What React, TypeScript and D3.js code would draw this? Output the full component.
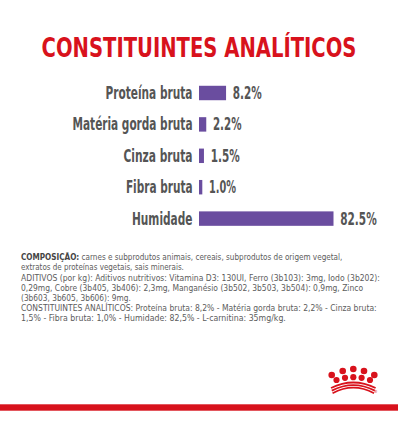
import React, { useLayoutEffect, useRef, useState } from "react";
import * as d3 from "d3";

const title = "CONSTITUINTES ANALÍTICOS";
const categories = ["Proteína bruta", "Matéria gorda bruta", "Cinza bruta", "Fibra bruta", "Humidade"];
const values = [8.2, 2.2, 1.5, 1.0, 82.5];
const valueLabels = ["8.2%", "2.2%", "1.5%", "1.0%", "82.5%"];
const labelWidths = [87, 120, 69, 66.5, 60.5];
const valueWidths = [29, 28.5, 29, 27, 36.5];

const paraBold = "COMPOSIÇÃO:";
const paraLines = [
  " carnes e subprodutos animais, cereais, subprodutos de origem vegetal,",
  "extratos de proteínas vegetais, sais minerais.",
  "ADITIVOS (por kg): Aditivos nutritivos: Vitamina D3: 130UI, Ferro (3b103): 3mg, Iodo (3b202):",
  "0,29mg, Cobre (3b405, 3b406): 2,3mg, Manganésio (3b502, 3b503, 3b504): 0,9mg, Zinco",
  "(3b603, 3b605, 3b606): 9mg.",
  "CONSTITUINTES ANALÍTICOS: Proteína bruta: 8,2% - Matéria gorda bruta: 2,2% - Cinza bruta:",
  "1,5% - Fibra bruta: 1,0% - Humidade: 82,5% - L-carnitina: 35mg/kg.",
];
const paraWidths = [322, 163, 359, 342, 110, 356, 265];

const topDots: [number, number][] = [
  [331.7, 375], [342.7, 371], [353.3, 369], [364, 371], [374.3, 375],
];
const lowDots: [number, number][] = [
  [336.5, 380], [345, 377.8], [353.3, 377.2], [361.6, 377.8], [370, 380],
];

const RED = "#d8121c";
const PURPLE = "#6a4d9f";
const GREY = "#555555";
const FONT = "'DejaVu Sans Condensed', 'DejaVu Sans', sans-serif";

function FitText(props: any) {
  const { x, y, width, anchor, children, ...rest } = props;
  const ref = useRef<SVGTextElement>(null);
  const [s, setS] = useState(1);
  useLayoutEffect(() => {
    if (ref.current) {
      const w = ref.current.getComputedTextLength();
      if (w > 0) setS(width / w);
    }
  }, [width]);
  return (
    <g transform={`translate(${x},${y}) scale(${s},1)`}>
      <text ref={ref} x={0} y={0} textAnchor={anchor || "start"} {...rest}>{children}</text>
    </g>
  );
}

export default function App() {
  const W = 398;
  const H = 425;
  const y = d3.scaleBand<string>().domain(categories).range([77.3, 234.3]).paddingInner(0.54).paddingOuter(0.27);
  const x = d3.scaleLinear().domain([0, 10, 100]).range([199, 232, 358]);
  const bw = y.bandwidth();

  return (
    <svg width={W} height={H} style={{ position: "absolute", left: 0, top: 0, background: "#fff" }}>
      <rect x={0} y={0} width={W} height={H} fill="#fff" />
      <FitText x={199} y={56.5} width={315} anchor="middle" fill={RED} fontFamily={FONT} fontWeight="bold"
        fontSize={26}>{title}</FitText>

      {categories.map((c, i) => {
        const yc = (y(c) as number) + bw / 2;
        return (
          <g key={c}>
            <FitText x={192.5} y={yc + 6} width={labelWidths[i]} anchor="end" fill={GREY} fontFamily={FONT}
              fontWeight="bold" fontSize={16.8}>{c}</FitText>
            <rect x={x(0)} y={y(c)} width={x(values[i]) - x(0)} height={bw} fill={PURPLE} />
            <FitText x={x(values[i]) + 6.7} y={yc + 6} width={valueWidths[i]} fill={GREY} fontFamily={FONT}
              fontWeight="bold" fontSize={16.8}>{valueLabels[i]}</FitText>
          </g>
        );
      })}

      {paraLines.map((l, i) => (
        <FitText key={i} x={21} y={260.3 + i * 10.15} width={paraWidths[i]} fill="#5c5c5c" fontFamily={FONT}
          fontSize={8.8}>
          {i === 0 ? (
            <>
              <tspan fontWeight="bold" fill="#444">{paraBold}</tspan>
              <tspan>{l}</tspan>
            </>
          ) : l}
        </FitText>
      ))}

      <g fill={RED}>
        {topDots.map((d, i) => <circle key={"t" + i} cx={d[0]} cy={d[1]} r={3.3} />)}
        {lowDots.map((d, i) => <circle key={"l" + i} cx={d[0]} cy={d[1]} r={3.1} />)}
      </g>
      <g fill="none" stroke={RED} strokeWidth={1.8}>
        {[0, 2.6, 5.2].map((o, i) => (
          <path key={i} d={`M${331 + o * 0.3},${388 + o} Q353.3,${377 + o} ${375.6 - o * 0.3},${388 + o}`} />
        ))}
      </g>
      <text x={374} y={393} fontSize={4} fill={RED} fontFamily={FONT}>®</text>

      <rect x={0} y={404.3} width={W} height={6.4} fill={RED} />
    </svg>
  );
}
